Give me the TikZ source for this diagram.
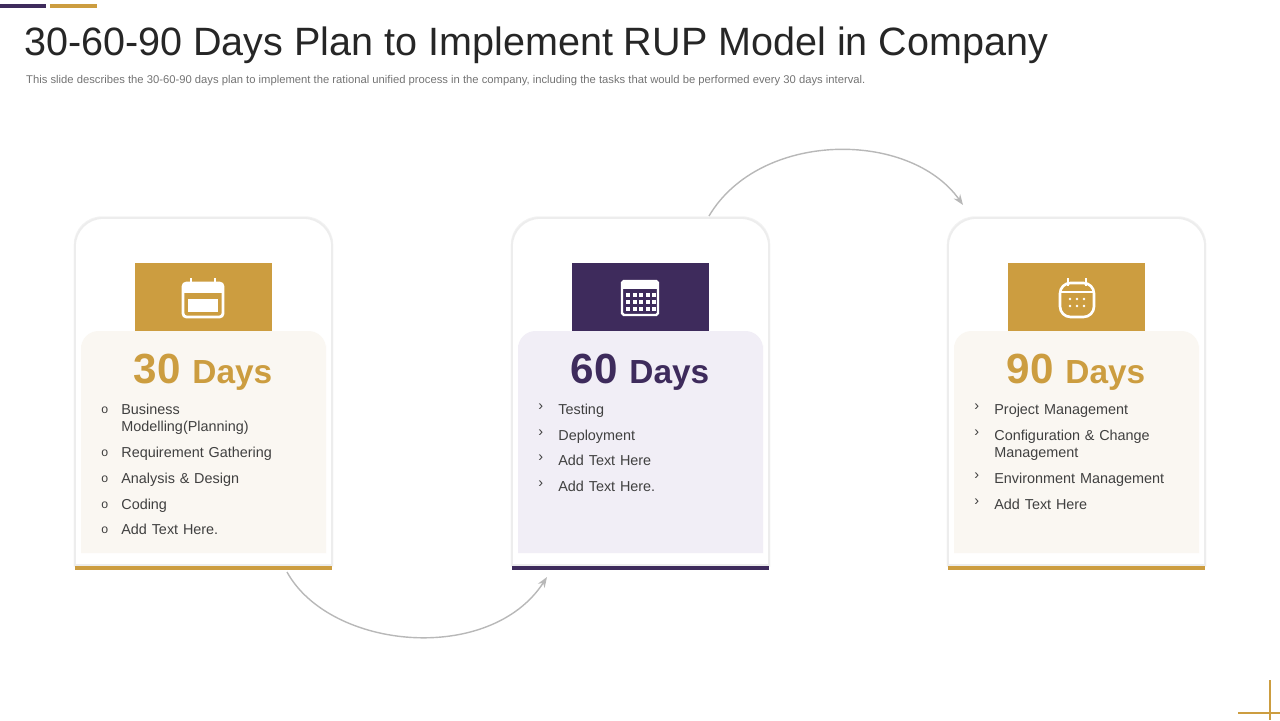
\documentclass[tikz,border=0pt]{standalone}
\usepackage{fontspec}
\setmainfont{Liberation Sans}
\usetikzlibrary{arrows.meta, positioning, calc, shadows}
\definecolor{gold}{HTML}{CC9D40}
\definecolor{plum}{HTML}{3E2B5C}
\definecolor{beige}{HTML}{FAF7F2}
\definecolor{lilac}{HTML}{F1EEF6}
\definecolor{txt}{HTML}{404040}
\begin{document}
\begin{tikzpicture}[
    x=0.02cm, y=-0.02cm,
    card/.style={fill=white, draw=black!7, line width=1pt, drop shadow={opacity=0.10, shadow xshift=0pt, shadow yshift=0pt, shadow scale=1.01}},
    iconbox/.style={minimum width=2.74cm, minimum height=1.36cm, inner sep=0pt},
    days/.style={font=\bfseries},
    item/.style={anchor=north west, text width=3.6cm, align=left, font=\fontsize{8.2}{9.6}\selectfont, text=txt, inner sep=0pt},
    curve/.style={draw=black!28, line width=0.8pt, -{Stealth[length=6pt]}}
]
    \useasboundingbox (0,0) rectangle (1280,720);
    % header
    \draw[plum, line width=2pt] (0,6) -- (46,6);
    \draw[gold, line width=2pt] (50,6) -- (97,6);
    \node[anchor=west, font=\fontsize{22.5}{25}\selectfont, text=black!85] (title) at (18,45) {30-60-90 Days Plan to Implement RUP Model in Company};
    \node[anchor=west, font=\fontsize{6.4}{7}\selectfont, text=black!55] (sub) at (20,81) {This slide describes the 30-60-90 days plan to implement the rational unified process in the company, including the tasks that would be performed every 30 days interval.};
    \draw[gold, line width=0.8pt] (1270,680) -- (1270,720);
    \draw[gold, line width=0.8pt] (1238,713) -- (1280,713);

    % cards
    \foreach \cx/\col/\pan in {75/gold/beige, 512/plum/lilac, 948/gold/beige}{
        \path[card] (\cx,565) -- (\cx,250) [rounded corners=16pt] -- (\cx,218) -- (\cx+257,218) [sharp corners] -- (\cx+257,250) -- (\cx+257,565) -- cycle;
        \fill[\pan] (\cx+6,553) -- (\cx+6,345) [rounded corners=10pt] -- (\cx+6,331) -- (\cx+251,331) [sharp corners] -- (\cx+251,345) -- (\cx+251,553) -- cycle;
        \fill[\col] (\cx+60,263) rectangle (\cx+197,331);
        \draw[\col, line width=2.5pt] (\cx,568) -- (\cx+257,568);
    }

    % icons
    \draw[white, line width=1.6pt, rounded corners=2pt] (183,283) rectangle (223,317);
    \fill[white] (183,283) rectangle (223,293);
    \draw[white, line width=1.6pt] (191,278) -- (191,286) (215,278) -- (215,286);
    \fill[white] (188,299) rectangle (218,312);
    \draw[white, line width=1.4pt, rounded corners=1pt] (622,281) rectangle (658,315);
    \fill[white] (622,281) rectangle (658,289);
    \foreach \i in {0,...,4}{\foreach \j in {0,1,2}{
        \fill[white] (626+\i*6.5,293+\j*7) rectangle ++(4,4);}}
    \draw[white, line width=1.5pt, rounded corners=6pt] (1060,283) rectangle (1094,317);
    \draw[white, line width=1.5pt] (1060,292) -- (1094,292) (1068,278) -- (1068,286) (1086,278) -- (1086,286);
    \foreach \i in {0,1,2}{\foreach \j in {0,1}{
        \fill[white] (1070+\i*7,299+\j*7) circle (1.3);}}

    % headings
    \node[days, text=gold] (d30) at (203,372) {\fontsize{24}{26}\selectfont 30 \fontsize{19}{22}\selectfont Days};
    \node[days, text=plum] (d60) at (640,372) {\fontsize{24}{26}\selectfont 60 \fontsize{19}{22}\selectfont Days};
    \node[days, text=gold] (d90) at (1076,372) {\fontsize{24}{26}\selectfont 90 \fontsize{19}{22}\selectfont Days};

    % items
    \foreach \y/\t in {404/{Business\\Modelling(Planning)}, 447/Requirement Gathering, 473/Analysis \& Design, 499/Coding, 524/Add Text Here.}{
        \node[item] at (121,\y) {\t};
        \node[item, text width=1em, font=\fontsize{7}{8}\selectfont] at (101,\y+3) {o};
    }
    \foreach \y/\t in {404/Testing, 430/Deployment, 455/Add Text Here, 481/Add Text Here.}{
        \node[item] at (558,\y) {\t};
        \node[item, text width=1em] at (538,\y) {›};
    }
    \foreach \y/\t in {404/Project Management, 430/{Configuration \& Change\\Management}, 473/Environment Management, 499/Add Text Here}{
        \node[item, text width=3.8cm] at (994,\y) {\t};
        \node[item, text width=1em] at (974,\y) {›};
    }

    % connectors
    \draw[curve] (287,572) .. controls (330,650) and (490,665) .. (547,577);
    \draw[curve] (709,216) .. controls (760,130) and (910,130) .. (963,205);
\end{tikzpicture}
\end{document}
